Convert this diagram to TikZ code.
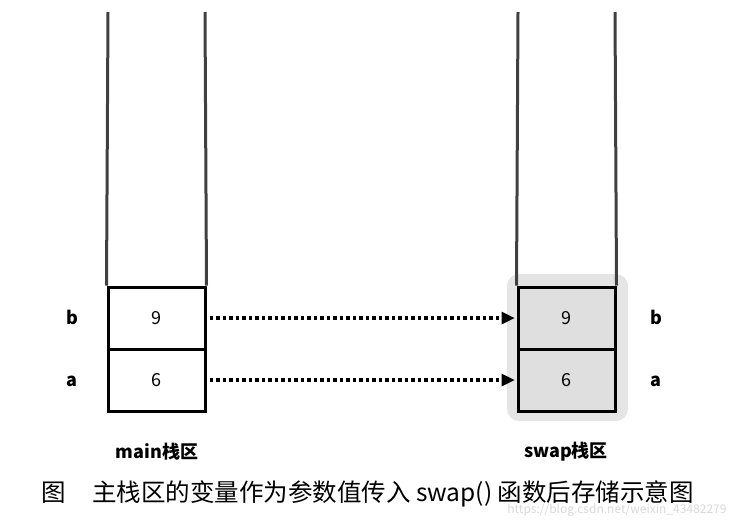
\documentclass[tikz,border=0pt]{standalone}
\usepackage{fontspec}
\setmainfont{Noto Sans CJK SC}
\usetikzlibrary{arrows.meta}
\tikzset{
  cell/.style={draw, line width=3pt, minimum width=97pt, minimum height=62pt, inner sep=0pt, font=\fontsize{18}{20}\selectfont},
  gcell/.style={cell, fill=gray!25},
  lab/.style={font=\bfseries\fontsize{18}{20}\selectfont},
  wall/.style={line width=3pt, draw=black!75},
  arr/.style={line width=3.5pt, dash pattern=on 3.5pt off 3pt, -{Triangle[length=13pt,width=13pt,line width=0pt]}, shorten <=3pt, shorten >=2pt}
}
\begin{document}
\begin{tikzpicture}[x=1pt,y=-1pt]
\useasboundingbox (0,0) rectangle (738,525);
\fill[gray!20, rounded corners=12pt] (507,274) rectangle (628,421);
\node[cell] (lb) at (156.5,318) {9};
\node[cell] (la) at (156.5,380) {6};
\coordinate (ltl) at (108,12);
\coordinate (ltr) at (205,12);
\draw[wall] (ltl) -- (lb.north west);
\draw[wall] (ltr) -- (lb.north east);
\node[gcell] (rb) at (566.5,318) {9};
\node[gcell] (ra) at (566.5,380) {6};
\coordinate (rtl) at (518,12);
\coordinate (rtr) at (615,12);
\draw[wall] (rtl) -- (rb.north west);
\draw[wall] (rtr) -- (rb.north east);
\node[lab] (lbl) at (72,317) {b};
\node[lab] (lal) at (72,381) {a};
\node[lab] (rbl) at (656,317) {b};
\node[lab] (ral) at (656,381) {a};
\draw[arr] (lb.east) -- (rb.west);
\draw[arr] (la.east) -- (ra.west);
\node[lab] (lm) at (157,452) {main栈区};
\node[lab] (rm) at (566,452) {swap栈区};
\node[anchor=west, font=\fontsize{24.5}{26}\selectfont] (cap) at (38,494) {图\hspace{26pt}主栈区的变量作为参数值传入 swap() 函数后存储示意图};
\node[anchor=east, text=gray!30, font=\fontsize{12}{13}\selectfont] (wm) at (730,510) {https://blog.csdn.net/weixin\_43482279};
\end{tikzpicture}
\end{document}
